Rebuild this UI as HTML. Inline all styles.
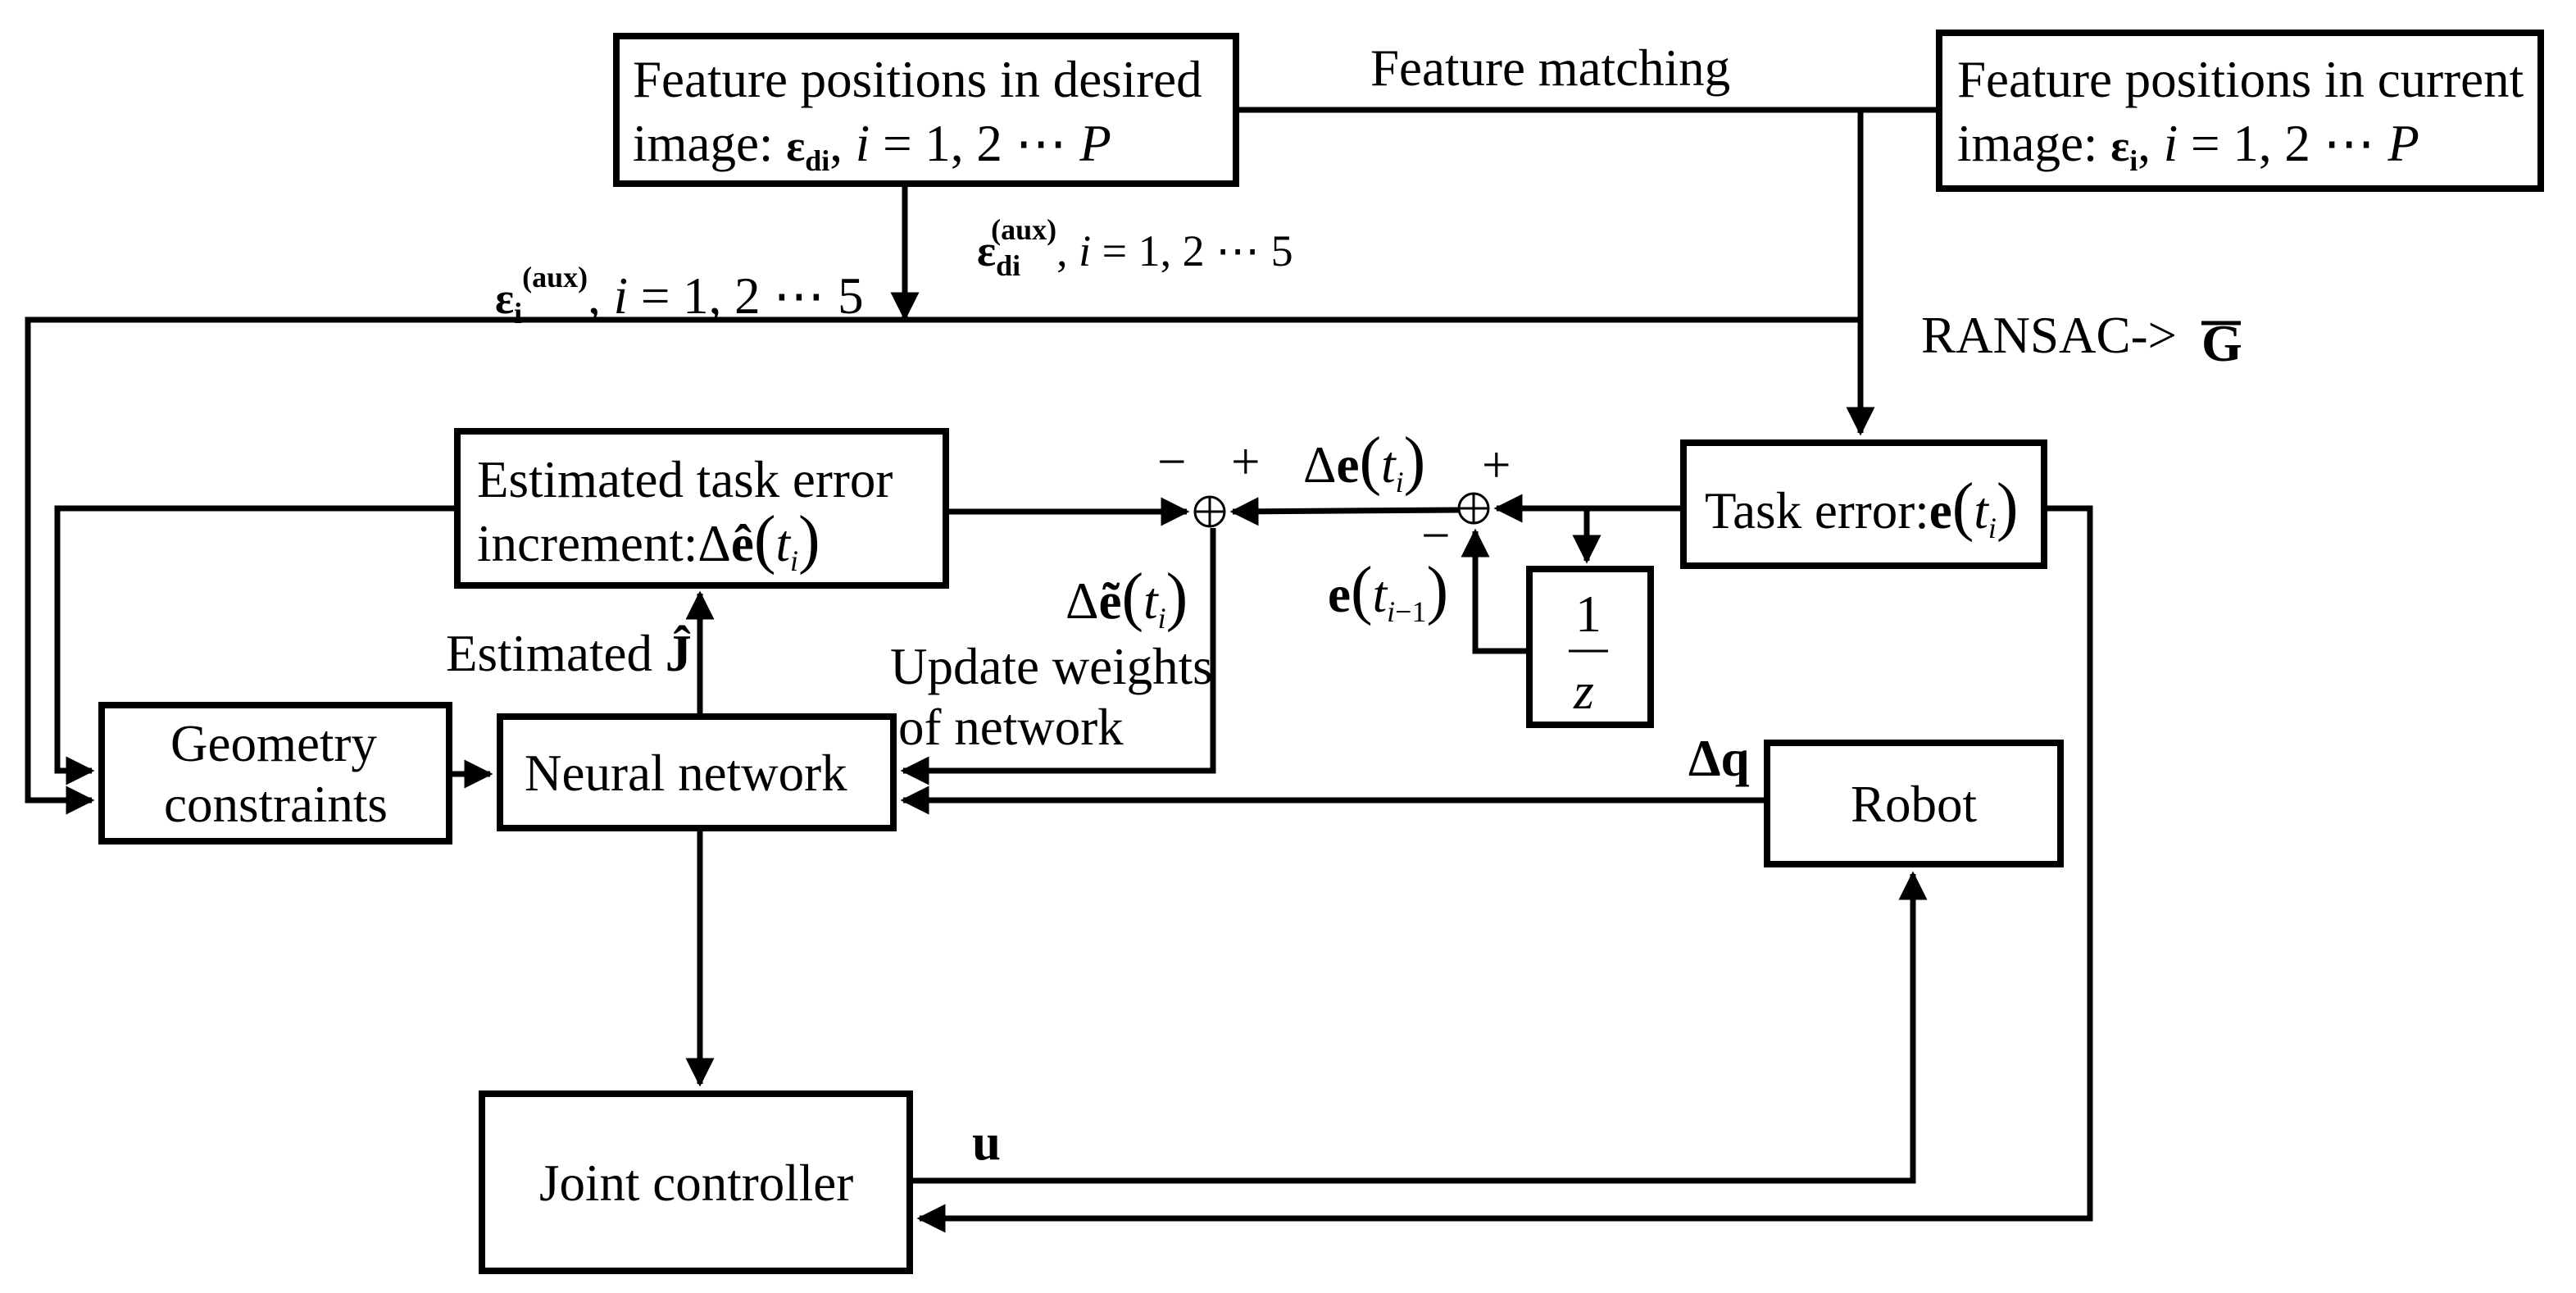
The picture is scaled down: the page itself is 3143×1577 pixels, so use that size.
<!DOCTYPE html>
<html><head><meta charset="utf-8"><style>
html,body{margin:0;padding:0;background:#fff}
svg{display:block}
text{font-family:"Liberation Serif",serif;fill:#000}
.b{font-weight:bold}
.i{font-style:italic}
</style></head><body>
<svg width="3143" height="1577" viewBox="0 0 1571.5 788.5" xmlns="http://www.w3.org/2000/svg">
<defs><marker id="a" markerWidth="5" markerHeight="5" refX="4.5" refY="2.5" orient="auto" markerUnits="strokeWidth"><path d="M0,0 L5,2.5 L0,5 Z" fill="#000"/></marker></defs>
<g fill="none" stroke="#000" stroke-width="4">
<rect x="376" y="22" width="378" height="90"/>
<rect x="1183" y="20" width="367" height="95"/>
<rect x="279" y="263" width="298" height="94"/>
<rect x="1027" y="270" width="220" height="75"/>
<rect x="933" y="347" width="74" height="95"/>
<rect x="62" y="430" width="212" height="83"/>
<rect x="305" y="437" width="240" height="68"/>
<rect x="1078" y="453" width="179" height="74"/>
<rect x="294" y="667" width="261" height="108"/>
</g>
<g fill="none" stroke="#000" stroke-width="3.5">
<path d="M754 67 H1183"/>
<path d="M1135 67 V264" marker-end="url(#a)"/>
<path d="M1135 195 H17 V488 H56" marker-end="url(#a)"/>
<path d="M552 112 V194" marker-end="url(#a)"/>
<path d="M279 310 H35 V470 H56" marker-end="url(#a)"/>
<path d="M577 312 H724" marker-end="url(#a)"/>
<path d="M890 311 L752 312" marker-end="url(#a)"/>
<path d="M1027 310 H913" marker-end="url(#a)"/>
<path d="M968 310 V342" marker-end="url(#a)"/>
<path d="M933 397 H900 V324" marker-end="url(#a)"/>
<path d="M1247 310 H1275 V743 H561" marker-end="url(#a)"/>
<path d="M740 322 V470 H551" marker-end="url(#a)"/>
<path d="M274 472 H299" marker-end="url(#a)"/>
<path d="M427 437 V362" marker-end="url(#a)"/>
<path d="M1078 488 H551" marker-end="url(#a)"/>
<path d="M427 505 V661" marker-end="url(#a)"/>
<path d="M555 720 H1167 V533" marker-end="url(#a)"/>
</g>
<g fill="none" stroke="#000" stroke-width="1.5">
<circle cx="738" cy="312" r="9"/><path d="M729 312 H747 M738 303 V321"/>
<circle cx="899" cy="310" r="9"/><path d="M890 310 H908 M899 301 V319"/>
<path d="M957 397 H981"/>
</g>
<g font-size="31.5">
<text x="386" y="59">Feature positions in desired</text>
<text x="386" y="98">image:  <tspan class="b" font-size="27">ε</tspan><tspan class="b" font-size="18" dy="6">di</tspan><tspan dy="-6">,  </tspan><tspan class="i">i</tspan> = 1, 2 ⋯ <tspan class="i">P</tspan></text>
<text x="1194" y="59">Feature positions in current</text>
<text x="1194" y="98">image:  <tspan class="b" font-size="27">ε</tspan><tspan class="b" font-size="18" dy="6">i</tspan><tspan dy="-6">,  </tspan><tspan class="i">i</tspan> = 1, 2 ⋯ <tspan class="i">P</tspan></text>
<text x="836" y="52">Feature matching</text>
<text x="1172" y="215">RANSAC-&gt;</text>
<text x="1343" y="220" class="b" font-size="32">G</text>
<path d="M1343 197 H1367" stroke="#000" stroke-width="2.5"/>
<text x="291" y="303">Estimated task error</text>
<text x="291" y="342">increment:Δ<tspan class="b">ê</tspan><tspan font-size="40">(</tspan><tspan class="i">t</tspan><tspan class="i" font-size="18" dy="6">i</tspan><tspan font-size="40" dy="-6">)</tspan></text>
<text x="1040" y="322">Task error:<tspan class="b">e</tspan><tspan font-size="40">(</tspan><tspan class="i">t</tspan><tspan class="i" font-size="18" dy="6">i</tspan><tspan font-size="40" dy="-6">)</tspan></text>
<text x="961" y="385" font-size="32">1</text>
<text x="960" y="432" class="i" font-size="32">z</text>
<text x="104" y="464">Geometry</text>
<text x="100" y="501">constraints</text>
<text x="320" y="482">Neural network</text>
<text x="1129" y="501">Robot</text>
<text x="329" y="732">Joint controller</text>
<text x="272" y="409">Estimated <tspan class="b" font-size="32">Ĵ</tspan></text>
<text x="543" y="417">Update weights</text>
<text x="548" y="454">of network</text>
<text x="795" y="294">Δ<tspan class="b">e</tspan><tspan font-size="40">(</tspan><tspan class="i">t</tspan><tspan class="i" font-size="18" dy="6">i</tspan><tspan font-size="40" dy="-6">)</tspan></text>
<text x="650" y="377">Δ<tspan class="b">ẽ</tspan><tspan font-size="40">(</tspan><tspan class="i">t</tspan><tspan class="i" font-size="18" dy="6">i</tspan><tspan font-size="40" dy="-6">)</tspan></text>
<text x="810" y="373"><tspan class="b">e</tspan><tspan font-size="40">(</tspan><tspan class="i">t</tspan><tspan font-size="18" dy="6"><tspan class="i">i</tspan>−1</tspan><tspan font-size="40" dy="-6">)</tspan></text>
<text x="706" y="292">−</text><text x="751" y="292">+</text>
<text x="904" y="294">+</text><text x="867" y="337">−</text>
<text x="1030" y="473" class="b">Δq</text>
<text x="593" y="707" class="b">u</text>
<text x="302" y="191"><tspan class="b" font-size="27">ε</tspan><tspan class="b" font-size="18" dy="6">i</tspan><tspan class="b" font-size="18" dy="-22">(aux)</tspan><tspan dy="16">,  </tspan><tspan class="i">i</tspan> = 1, 2 ⋯ 5</text>
<text x="596" y="162" font-size="27"><tspan class="b">ε</tspan><tspan class="b" font-size="18" dy="6">di</tspan><tspan class="b" font-size="18" dx="-18" dy="-22">(aux)</tspan><tspan dy="16">,  </tspan><tspan class="i">i</tspan> = 1, 2 ⋯ 5</text>
</g>
</svg>
</body></html>
